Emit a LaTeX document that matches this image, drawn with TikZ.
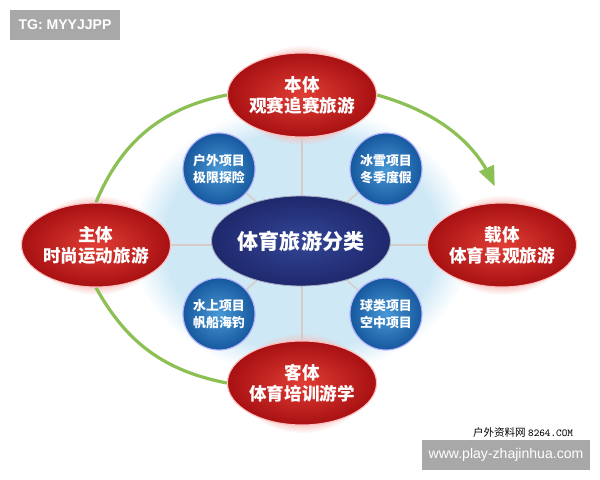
\documentclass[tikz,border=0pt]{standalone}
\usepackage{fontspec}
\setmainfont{Noto Sans CJK SC}
\newfontfamily\latinfont{Liberation Sans}
\usepackage{tikz}
\usetikzlibrary{shapes}
\usetikzlibrary{arrows}
\usetikzlibrary{backgrounds}
\usetikzlibrary{fadings}
\definecolor{arcgreen}{RGB}{140,192,84}
\definecolor{spokegray}{RGB}{214,204,198}
\definecolor{redin}{RGB}{224,62,52}
\definecolor{redout}{RGB}{168,16,18}
\definecolor{bluein}{RGB}{72,152,214}
\definecolor{blueout}{RGB}{22,88,158}
\definecolor{navyin}{RGB}{52,70,150}
\definecolor{navyout}{RGB}{30,40,108}
\definecolor{glowblue}{RGB}{206,232,246}
\definecolor{halored}{RGB}{246,196,192}
\definecolor{taggray}{RGB}{168,168,168}
\tikzstyle{body}=[ellipse,draw=white!75!red,line width=0.8pt,inner color=redin,outer color=redout,inner sep=0mm,minimum width=2.9cm,minimum height=2.1cm,text=white,align=center,font=\bfseries\fontsize{12.5}{15}\selectfont]
\tikzstyle{item}=[circle,draw=white!70!blue,line width=0.8pt,inner color=bluein,outer color=blueout,inner sep=0mm,minimum size=1.8cm,text=white,align=center,font=\bfseries\fontsize{9.2}{12}\selectfont]
\tikzstyle{core}=[ellipse,draw=white!60!navyout,line width=0.6pt,inner color=navyin,outer color=navyout,inner sep=0mm,minimum width=3.6cm,minimum height=2.25cm,text=white,font=\bfseries\fontsize{15}{18}\selectfont]
\tikzstyle{tag}=[rectangle,fill=taggray,text=white,inner sep=0mm,minimum height=0.75cm,font=\latinfont\fontsize{10}{11}\selectfont]
\tikzstyle{spoke}=[draw=spokegray,line width=1pt]
\tikzstyle{arc}=[draw=arcgreen,line width=2.3pt,>=triangle 45]
\tikzset{every picture/.style={
    x=0.025cm,y=-0.025cm
  }
}

\begin{document}
\begin{tikzpicture}
    \useasboundingbox (0,0) rectangle (600,480);
    \node[body] at (302,95) (benti) {本体\\观赛追赛旅游};
    \node[body] at (96,245) (zhuti) {主体\\时尚运动旅游};
    \node[body] at (502,245) (zaiti) {载体\\体育景观旅游};
    \node[body] at (302,383) (keti) {客体\\体育培训游学};
    \node[core] at (301,241) (fenlei) {体育旅游分类};
    \node[item] at (219,169) (huwai) {户外项目\\极限探险};
    \node[item] at (386,169) (bingxue) {冰雪项目\\冬季度假};
    \node[item] at (219,314) (shuishang) {水上项目\\帆船海钓};
    \node[item] at (386,314) (qiulei) {球类项目\\空中项目};
    \node[tag,minimum width=2.75cm,font=\latinfont\bfseries\fontsize{10}{11}\selectfont] at (65,25) (tg) {TG: MYYJJPP};
    \node[tag,minimum width=4.2cm] at (506,455) (site) {www.play-zhajinhua.com};
    \node[font=\fontsize{7.5}{8}\selectfont] at (523,432) (ziliao) {户外资料网 {\ttfamily 8264.COM}};
    \begin{pgfonlayer}{background}
      \fill[glowblue,path fading=circle with fuzzy edge 20 percent] (fenlei.center) ellipse [x radius=170,y radius=135];
      \fill[halored,path fading=circle with fuzzy edge 20 percent] (benti.center) ellipse [x radius=66,y radius=50];
      \fill[halored,path fading=circle with fuzzy edge 20 percent] (zhuti.center) ellipse [x radius=66,y radius=50];
      \fill[halored,path fading=circle with fuzzy edge 20 percent] (zaiti.center) ellipse [x radius=66,y radius=50];
      \fill[halored,path fading=circle with fuzzy edge 20 percent] (keti.center) ellipse [x radius=66,y radius=50];
      \draw[spoke] (zhuti) -- (zaiti);
      \draw[spoke] (benti) -- (keti);
      \draw[spoke] (fenlei) -- (huwai);
      \draw[spoke] (fenlei) -- (bingxue);
      \draw[spoke] (fenlei) -- (shuishang);
      \draw[spoke] (fenlei) -- (qiulei);
      \draw[arc,->,shorten >=0.45cm] (benti.east) to[bend left=25] (zaiti.north);
      \draw[arc] (benti.west) to[bend right=28] (zhuti.north);
      \draw[arc] (zhuti.south) to[bend right=25] (keti.west);
    \end{pgfonlayer}
  \end{tikzpicture}
\end{document}
